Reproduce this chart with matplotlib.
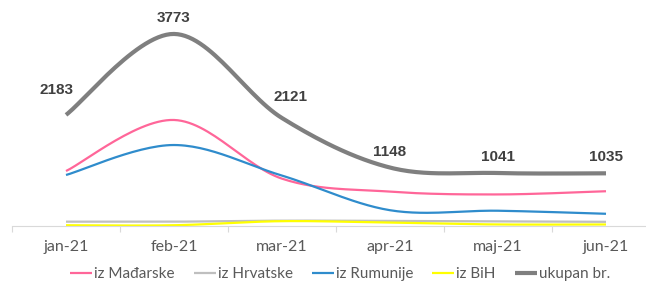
"""Monthly arrivals by origin, Jan-Jun 2021 (smoothed Excel-style lines)."""

import numpy as np
import matplotlib.pyplot as plt

plt.rcParams["font.family"] = ["Lato", "DejaVu Sans"]

MONTHS    = ["jan-21", "feb-21", "mar-21", "apr-21", "maj-21", "jun-21"]
MADJARSKA = [1080, 2083, 930, 675, 620, 683]
HRVATSKA  = [85, 85, 105, 100, 90, 82]
RUMUNIJA  = [1002, 1591, 990, 310, 300, 240]
BIH       = [15, 15, 95, 65, 30, 30]
UKUPNO    = [2183, 3773, 2121, 1148, 1041, 1035]

# label offsets (px) for the total values, as placed in the original
LABEL_OFFS = [(-10, 25), (0, 16), (9, 21), (0, 16), (0, 16), (0, 16)]

W, H = 646, 283
PX_PER_UNIT = 0.0509
BASE_Y = 226          # pixel row of the zero line


def smooth(y, n=30):
    """Excel-like smoothed line: cubic bezier with Catmull-Rom controls."""
    y = np.asarray(y, float)
    x = np.arange(len(y), dtype=float)
    xs, ys = [], []
    for i in range(len(y) - 1):
        p0 = np.array([x[max(i - 1, 0)], y[max(i - 1, 0)]])
        p1 = np.array([x[i], y[i]])
        p2 = np.array([x[i + 1], y[i + 1]])
        p3 = np.array([x[min(i + 2, len(y) - 1)], y[min(i + 2, len(y) - 1)]])
        c1 = p1 + (p2 - p0) / 6.0
        c2 = p2 - (p3 - p1) / 6.0
        t = np.linspace(0, 1, n)[:, None]
        pts = ((1 - t) ** 3) * p1 + 3 * ((1 - t) ** 2) * t * c1 \
            + 3 * (1 - t) * t ** 2 * c2 + t ** 3 * p2
        xs.extend(pts[:, 0])
        ys.extend(pts[:, 1])
    return np.array(xs), np.array(ys)


fig = plt.figure(figsize=(W / 100, H / 100), dpi=100)
ax = fig.add_axes([12 / W, (H - BASE_Y) / H, 648 / W, BASE_Y / H])
ax.set_xlim(-0.5, 5.5)
ax.set_ylim(0, BASE_Y / PX_PER_UNIT)

series = [
    (MADJARSKA, "iz Mađarske", "#ff6699", 1.6),
    (HRVATSKA,  "iz Hrvatske", "#bfbfbf", 1.6),
    (RUMUNIJA,  "iz Rumunije", "#2f8ccc", 1.6),
    (BIH,       "iz BiH",      "#ffff00", 1.6),
    (UKUPNO,    "ukupan br.",  "#7f7f7f", 3.0),
]
for vals, name, col, lw in series:
    sx, sy = smooth(vals)
    ax.plot(sx, sy, color=col, lw=lw, label=name, solid_capstyle="butt")

for i, (v, (dx, dy)) in enumerate(zip(UKUPNO, LABEL_OFFS)):
    ax.annotate(str(v), (i, v), xytext=(dx * 0.72, dy * 0.72),
                textcoords="offset points", ha="center", va="center",
                fontsize=11, fontweight="bold", color="#404040",
                family=["Liberation Sans", "DejaVu Sans"])

for s in ["top", "right", "left"]:
    ax.spines[s].set_visible(False)
ax.spines["bottom"].set_color("#d9d9d9")
ax.spines["bottom"].set_linewidth(0.8)
ax.set_yticks([])
ax.set_xticks(np.arange(len(MONTHS)))
ax.set_xticklabels(MONTHS, fontsize=11.5, color="#595959")
ax.tick_params(axis="x", which="major", length=0, pad=10)
ax.set_xticks(np.arange(-0.5, 5.6, 1), minor=True)
ax.tick_params(axis="x", which="minor", length=4, color="#d9d9d9", width=0.8)

fig.legend(loc="center", bbox_to_anchor=(340 / W, 1 - 274 / H), ncol=5,
           frameon=False, fontsize=11, handlelength=1.45, handletextpad=0.12,
           columnspacing=1.25, labelcolor="#595959", borderpad=0.2)

fig.savefig("out.png", dpi=100)
